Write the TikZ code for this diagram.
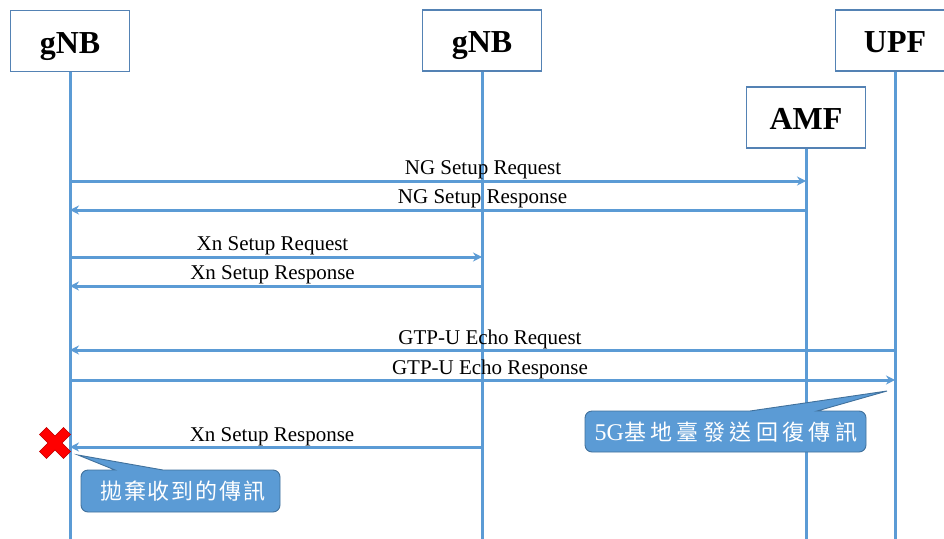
\documentclass[tikz,border=0pt]{standalone}
\usepackage{fontspec}
\setmainfont{Liberation Serif}
\newfontfamily\cjkA[LetterSpace=9]{Noto Sans CJK TC}
\newfontfamily\cjkB[LetterSpace=20]{Noto Sans CJK TC}
\usetikzlibrary{arrows.meta}
\definecolor{lineblue}{RGB}{91,155,213}
\definecolor{edgeblue}{RGB}{65,113,156}
\definecolor{boxedge}{RGB}{84,130,180}
\begin{document}
\begin{tikzpicture}[x=1pt,y=-1pt,
  entity/.style={draw=boxedge, line width=1.1pt, fill=white, minimum width=119pt, minimum height=61pt, inner sep=0pt, text height=24pt, text depth=0pt, font=\fontsize{32}{36}\selectfont\bfseries},
  life/.style={lineblue, line width=3pt},
  msg/.style={lineblue, line width=3pt, -{Stealth[length=9pt,width=9pt]}},
  lbl/.style={font=\fontsize{21}{24}\selectfont, anchor=base, inner sep=0pt},
  callout/.style={fill=lineblue, draw=edgeblue, line width=0.9pt},
  calltext/.style={text=white, inner sep=0pt}]
\clip (0,0) rectangle (944,538);
\fill[white] (0,0) rectangle (944,538);
% entities
\node[entity] (g1) at (70,41) {gNB};
\node[entity] (g2) at (482,40.5) {gNB};
\node[entity] (upf) at (895,40.5) {UPF};
\node[entity] (amf) at (806,117.5) {AMF};
% lifelines
\draw[life] (g1.south) -- (g1.south |- 0,540);
\draw[life] (g2.south) -- (g2.south |- 0,540);
\draw[life] (amf.south) -- (amf.south |- 0,540);
\draw[life] (upf.south) -- (upf.south |- 0,540);
% messages
\draw[msg] (g1 |- 0,181) -- (amf |- 0,181);
\node[lbl] (m1) at (483,174) {NG Setup Request};
\draw[msg] (amf |- 0,210) -- (g1 |- 0,210);
\node[lbl] (m2) at (482.5,203) {NG Setup Response};
\draw[msg] (g1 |- 0,257) -- (g2 |- 0,257);
\node[lbl] (m3) at (272.5,250) {Xn Setup Request};
\draw[msg] (g2 |- 0,286) -- (g1 |- 0,286);
\node[lbl] (m4) at (272.5,279) {Xn Setup Response};
\draw[msg] (upf |- 0,350) -- (g1 |- 0,350);
\node[lbl] (m5) at (490,344) {GTP-U Echo Request};
\draw[msg] (g1 |- 0,380) -- (upf |- 0,380);
\node[lbl] (m6) at (490,374) {GTP-U Echo Response};
\draw[msg] (g2 |- 0,447) -- (g1 |- 0,447);
\node[lbl] (m7) at (272,441) {Xn Setup Response};
% red cross
\begin{scope}[shift={(55,443)}, rotate=45]
\draw[fill=red, draw=red!75!black, line width=0.5pt]
  (5,5) -- (5,17) -- (-5,17) -- (-5,5) -- (-17,5) -- (-17,-5)
  -- (-5,-5) -- (-5,-17) -- (5,-17) -- (5,-5) -- (17,-5) -- (17,5) -- cycle;
\end{scope}
% callout 1
\draw[callout] (115,470) -- (78,455) -- (163,470) [rounded corners=7] -- (280,470) -- (280,512) -- (81,512) -- (81,470) [sharp corners] -- cycle;
\node[calltext, font=\cjkA\fontsize{22}{24}\selectfont] (c1) at (183,491) {拋棄收到的傳訊};
% callout 2
\draw[callout] (750,411) -- (887,391) -- (817,411) [rounded corners=7] -- (866,411) -- (866,452) -- (585,452) -- (585,411) [sharp corners] -- cycle;
\node[calltext, font=\cjkB\fontsize{22}{24}\selectfont] (c2) at (726,432) {{\rmfamily\fontsize{24}{26}\selectfont 5G}基地臺發送回復傳訊};
\end{tikzpicture}
\end{document}
